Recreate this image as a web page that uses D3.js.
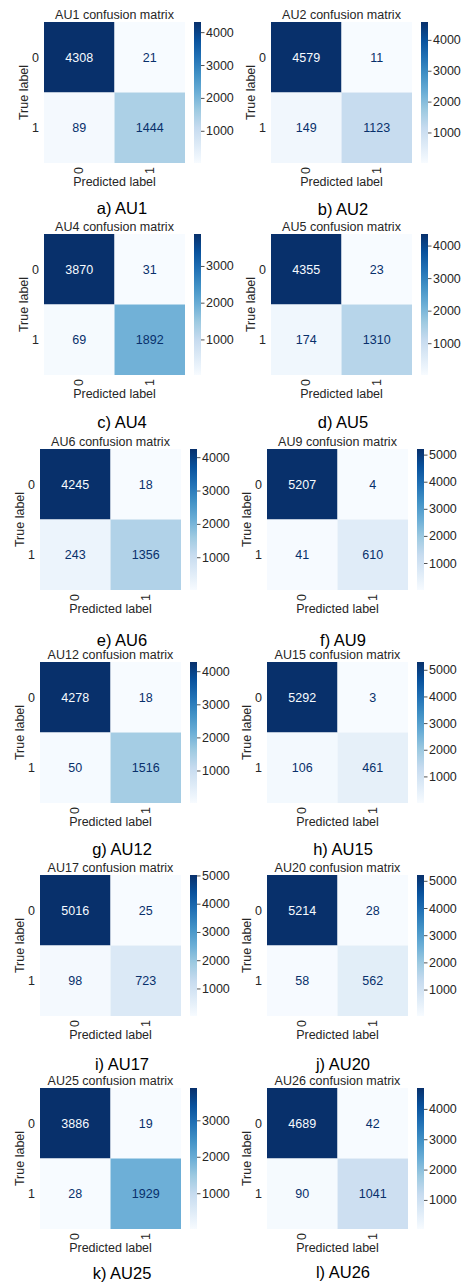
<!DOCTYPE html>
<html>
<head>
<meta charset="utf-8">
<script src="https://cdn.jsdelivr.net/npm/d3@7"></script>
<style>
  body { margin: 0; background: #fff; }
  svg { display: block; }
  text { font-family: "Liberation Sans", Arial, sans-serif; }
</style>
</head>
<body>
<svg id="fig" width="464" height="1282"></svg>
<script>
// Action units and their binary confusion matrices: [[TN, FP], [FN, TP]]
const units    = ["AU1", "AU2", "AU4", "AU5", "AU6", "AU9", "AU12", "AU15", "AU17", "AU20", "AU25", "AU26"];
const letters  = ["a", "b", "c", "d", "e", "f", "g", "h", "i", "j", "k", "l"];
const trueNeg  = [4308, 4579, 3870, 4355, 4245, 5207, 4278, 5292, 5016, 5214, 3886, 4689];
const falsePos = [21, 11, 31, 23, 18, 4, 18, 3, 25, 28, 19, 42];
const falseNeg = [89, 149, 69, 174, 243, 41, 50, 106, 98, 58, 28, 90];
const truePos  = [1444, 1123, 1892, 1310, 1356, 610, 1516, 461, 723, 562, 1929, 1041];
const classLabels = ["0", "1"];
const colorbarTicks = [1000, 2000, 3000, 4000, 5000];

// Panel placement: top-left corner of each heatmap, and caption baseline
const origins = [[44, 22], [271, 22], [44, 234], [271, 234], [40, 449], [267, 449],
                 [40, 662], [267, 662], [40, 875], [267, 875], [40, 1088], [267, 1088]];
const captionY = [214, 215, 428, 428, 646, 646, 855, 855, 1070, 1070, 1279, 1278];
const captionX = [122, 343];

const SIZE = 141;        // heatmap side
const CB_GAP = 9, CB_W = 7;
const FONT = 12.5;
const INK = "#262626";

// matplotlib "Blues" anchor colours, linearly interpolated
const bluesStops = ["#f7fbff", "#deebf7", "#c6dbef", "#9ecae1", "#6baed6",
                    "#4292c6", "#2171b5", "#08519c", "#08306b"];

const svg = d3.select("#fig");
const defs = svg.append("defs");
const t = d3.scaleLinear().domain(d3.range(bluesStops.length).map(i => i / (bluesStops.length - 1)))
  .range(bluesStops).interpolate(d3.interpolateRgb);

units.forEach((unit, k) => {
  const [x0, y0] = origins[k];
  const m = [[trueNeg[k], falsePos[k]], [falseNeg[k], truePos[k]]];
  const cells = [];
  m.forEach((row, r) => row.forEach((v, c) => cells.push({ r: classLabels[r], c: classLabels[c], v })));
  const vmin = d3.min(cells, d => d.v), vmax = d3.max(cells, d => d.v);
  const norm = d3.scaleLinear().domain([vmin, vmax]).range([0, 1]).clamp(true);
  const color = v => t(norm(v));
  const thresh = (vmin + vmax) / 2;

  const x = d3.scaleBand().domain(classLabels).range([0, SIZE]);
  const y = d3.scaleBand().domain(classLabels).range([0, SIZE]);

  const g = svg.append("g").attr("transform", `translate(${x0},${y0})`);

  // title
  g.append("text").attr("x", SIZE / 2).attr("y", -3).attr("text-anchor", "middle")
    .attr("font-size", FONT).attr("fill", INK).text(`${unit} confusion matrix`);

  // cells
  g.selectAll("rect.cell").data(cells).join("rect").attr("class", "cell")
    .attr("x", d => x(d.c)).attr("y", d => y(d.r))
    .attr("width", x.bandwidth()).attr("height", y.bandwidth())
    .attr("fill", d => color(d.v));

  // cell annotations
  g.selectAll("text.val").data(cells).join("text").attr("class", "val")
    .attr("x", d => x(d.c) + x.bandwidth() / 2).attr("y", d => y(d.r) + y.bandwidth() / 2)
    .attr("dy", "0.36em").attr("text-anchor", "middle").attr("font-size", FONT)
    .attr("fill", d => d.v < thresh ? bluesStops[8] : bluesStops[0])
    .text(d => d.v);

  // row tick labels
  g.selectAll("text.ytick").data(classLabels).join("text").attr("class", "ytick")
    .attr("x", -5).attr("y", d => y(d) + y.bandwidth() / 2).attr("dy", "0.36em")
    .attr("text-anchor", "end").attr("font-size", FONT).attr("fill", INK).text(d => d);

  // column tick labels, vertical
  g.selectAll("text.xtick").data(classLabels).join("text").attr("class", "xtick")
    .attr("transform", d => `translate(${x(d) + x.bandwidth() / 2 + 4},${SIZE + 4}) rotate(-90)`)
    .attr("text-anchor", "end").attr("font-size", FONT).attr("fill", INK).text(d => d);

  // axis titles
  g.append("text").attr("transform", `translate(-16,${SIZE / 2}) rotate(-90)`)
    .attr("text-anchor", "middle").attr("font-size", FONT).attr("fill", INK).text("True label");
  g.append("text").attr("x", SIZE / 2).attr("y", SIZE + 23).attr("text-anchor", "middle")
    .attr("font-size", FONT).attr("fill", INK).text("Predicted label");

  // colorbar
  const gid = `cb${k}`;
  const grad = defs.append("linearGradient").attr("id", gid)
    .attr("x1", 0).attr("y1", 1).attr("x2", 0).attr("y2", 0);
  d3.range(0, 1.0001, 0.125).forEach(p => {
    grad.append("stop").attr("offset", p).attr("stop-color", t(p));
  });
  const cbx = SIZE + CB_GAP;
  g.append("rect").attr("x", cbx).attr("y", 0).attr("width", CB_W).attr("height", SIZE)
    .attr("fill", `url(#${gid})`);
  const cbScale = d3.scaleLinear().domain([vmin, vmax]).range([SIZE, 0]);
  const cbAxis = d3.axisRight(cbScale)
    .tickValues(colorbarTicks.filter(v => v >= vmin && v <= vmax))
    .tickFormat(d3.format("d")).tickSize(3.5).tickPadding(1.5);
  const ax = g.append("g").attr("transform", `translate(${cbx + CB_W},0)`).call(cbAxis);
  ax.select(".domain").remove();
  ax.selectAll(".tick line").attr("stroke", INK).attr("stroke-width", 0.8);
  ax.selectAll(".tick text").attr("font-size", FONT).attr("fill", INK)
    .attr("font-family", "'Liberation Sans', Arial, sans-serif");

  // caption
  svg.append("text").attr("x", captionX[k % 2]).attr("y", captionY[k])
    .attr("text-anchor", "middle").attr("font-size", 16.5).attr("fill", "#000")
    .text(`${letters[k]}) ${unit}`);
});
</script>
</body>
</html>
